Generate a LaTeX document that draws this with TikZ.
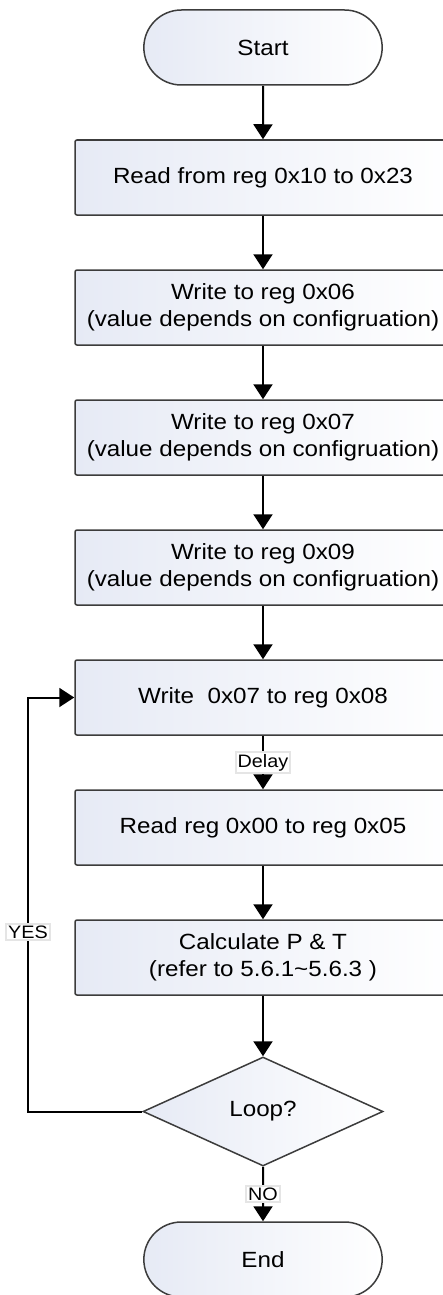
\documentclass[tikz,border=0pt]{standalone}
\usepackage{fontspec}
\setmainfont{Liberation Sans}[FakeStretch=1.1]
\usetikzlibrary{arrows.meta,shapes.geometric,shapes.misc}

\definecolor{boxfill}{RGB}{230,234,245}
\definecolor{boxline}{RGB}{60,60,60}

\tikzset{
	process/.style={draw=boxline, line width=1.5pt, rounded corners=2pt,
		left color=boxfill, right color=white, minimum width=376pt,
		minimum height=75pt, align=center, font=\fontsize{22}{27}\selectfont},
	terminal/.style={draw=boxline, line width=1.5pt, rounded rectangle,
		left color=boxfill, right color=white, minimum width=245pt,
		minimum height=75pt, font=\fontsize{22}{27}\selectfont},
	decision/.style={draw=boxline, line width=1.5pt, diamond, inner sep=0pt,
		left color=boxfill, right color=white, minimum width=240pt,
		minimum height=109pt, font=\fontsize{22}{27}\selectfont},
	flow/.style={-{Triangle[length=15pt, width=19pt]}, line width=2pt},
	tag/.style={fill=white, draw=gray!20, inner sep=2pt,
		font=\fontsize{18}{20}\selectfont}
}

\begin{document}
\begin{tikzpicture}[x=1pt, y=-1pt]
		\useasboundingbox[fill=white] (0,0) rectangle (443,1295);

		% start and the process steps
		\node[terminal] (start) at (263,47.5) {Start};
		\foreach \i / \txt in {%
			1/{Read from reg 0x10 to 0x23},
			2/{Write to reg 0x06\\(value depends on configruation)},
			3/{Write to reg 0x07\\(value depends on configruation)},
			4/{Write to reg 0x09\\(value depends on configruation)},
			5/{Write\ \ 0x07 to reg 0x08},
			6/{Read reg 0x00 to reg 0x05},
			7/{Calculate P \& T\\(refer to 5.6.1\textasciitilde 5.6.3 )}%
		}{
			\node[process] (b\i) at (263, {47.5 + 130*\i}) {\txt};
		}
		\node[decision] (loop) at (263,1111.5) {Loop?};
		\node[terminal] (end) at (263,1259.5) {End};

		% arrows down
		\draw[flow] (start) -- (b1);
		\foreach \a / \b in {1/2, 2/3, 3/4, 4/5, 6/7}{
			\draw[flow] (b\a) -- (b\b);
		}
		\draw[flow] (b5) -- node[tag] {Delay} (b6);
		\draw[flow] (b7) -- (loop);
		\draw[flow] (loop) -- node[tag] {NO} (end);

		% loop back
		\coordinate (rail) at (28,932);
		\draw[flow] (loop.west) -| (rail) node[tag] {YES} |- (b5.west);

	\end{tikzpicture}
\end{document}
